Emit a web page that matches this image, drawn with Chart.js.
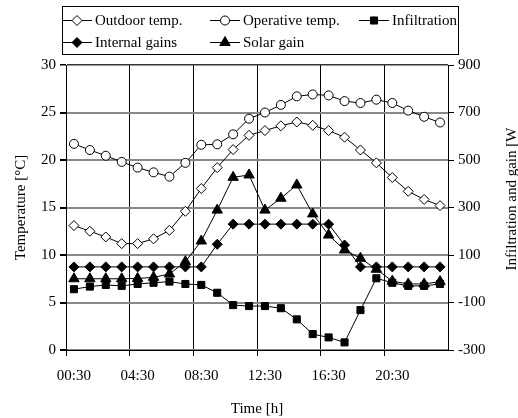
<!DOCTYPE html>
<html>
<head>
<meta charset="utf-8">
<script src="https://cdn.jsdelivr.net/npm/chart.js@4/dist/chart.umd.min.js"></script>
<style>
    html, body { margin: 0; padding: 0; background: #fff; }
    #wrap { width: 518px; height: 418px; position: relative; }
</style>
</head>
<body>
<div id="wrap"><canvas id="chart" width="518" height="418"></canvas></div>
<script>
const hours = ['00:30', '01:30', '02:30', '03:30', '04:30', '05:30', '06:30', '07:30',
    '08:30', '09:30', '10:30', '11:30', '12:30', '13:30', '14:30', '15:30',
    '16:30', '17:30', '18:30', '19:30', '20:30', '21:30', '22:30', '23:30'];

// temperatures [°C], left axis
const outdoorTemp = [13.1, 12.5, 11.9, 11.2, 11.2, 11.7, 12.6, 14.6, 17.0, 19.2, 21.1, 22.6,
    23.1, 23.6, 24.0, 23.65, 23.1, 22.4, 21.05, 19.7, 18.15, 16.7, 15.85, 15.2];
const operativeTemp = [21.7, 21.05, 20.45, 19.8, 19.2, 18.7, 18.25, 19.7, 21.6, 21.65, 22.7, 24.35,
    25.0, 25.8, 26.7, 26.9, 26.8, 26.2, 26.0, 26.35, 26.0, 25.2, 24.55, 23.95];

// powers [W], right axis
const infiltration = [-44, -33, -26, -30, -22, -17, -12, -22, -26, -59, -111, -115,
    -115, -124, -171, -233, -247, -268, -132, 2, -17, -30, -30, -22];
const internalGains = [50, 50, 50, 50, 50, 50, 50, 50, 50, 145, 230, 230,
    230, 230, 230, 230, 230, 142, 50, 50, 50, 50, 50, 50];
const solarGain = [0, 0, 0, 0, 1, 6, 20, 72, 159, 289, 427, 437,
    289, 339, 395, 273, 184, 121, 86, 40, -10, -22, -22, -12];

const tempTicks = [0, 5, 10, 15, 20, 25, 30];
const powerTicks = [-300, -100, 100, 300, 500, 700, 900];

const font = "'Liberation Serif', 'Times New Roman', serif";

const legendItems = [
    { idx: 0, x: 62, y: 20 },
    { idx: 1, x: 210, y: 20 },
    { idx: 2, x: 359, y: 20 },
    { idx: 3, x: 62, y: 42 },
    { idx: 4, x: 210, y: 42 },
];

const boxLegend = {
    id: 'boxLegend',
    afterDraw(chart) {
        const { ctx } = chart;
        ctx.save();
        ctx.strokeStyle = '#000';
        ctx.lineWidth = 1;
        ctx.strokeRect(62.5, 6.5, 396, 48);
        ctx.font = '15px ' + font;
        ctx.textBaseline = 'middle';
        legendItems.forEach((item) => {
            const ds = chart.data.datasets[item.idx];
            ctx.strokeStyle = '#000';
            ctx.beginPath();
            ctx.moveTo(item.x, item.y + 0.5);
            ctx.lineTo(item.x + 30, item.y + 0.5);
            ctx.stroke();
            ctx.fillStyle = ds.pointBackgroundColor;
            Chart.helpers.drawPoint(ctx, {
                pointStyle: ds.pointStyle,
                radius: ds.pointRadius,
                borderWidth: 1,
            }, item.x + 15, item.y + 0.5);
            ctx.fillStyle = '#000';
            ctx.fillText(ds.label, item.x + 33, item.y + 1);
        });

        // right axis title, reading upwards (cut short as in the original)
        ctx.translate(512, 199);
        ctx.rotate(-Math.PI / 2);
        ctx.textAlign = 'center';
        ctx.fillText('Infiltration and gain [W', 0, 0);
        ctx.restore();
    },
};

const line = {
    borderColor: '#000',
    borderWidth: 1,
    pointBorderColor: '#000',
    pointBorderWidth: 1,
    tension: 0,
};

new Chart(document.getElementById('chart'), {
    type: 'line',
    data: {
        labels: hours,
        datasets: [
            { ...line, label: 'Outdoor temp.', data: outdoorTemp, yAxisID: 'y',
              pointStyle: 'rectRot', pointRadius: 5, pointBackgroundColor: '#fff', order: 5 },
            { ...line, label: 'Operative temp.', data: operativeTemp, yAxisID: 'y',
              pointStyle: 'circle', pointRadius: 4.5, pointBackgroundColor: '#fff', order: 4 },
            { ...line, label: 'Infiltration', data: infiltration, yAxisID: 'y1',
              pointStyle: 'rect', pointRadius: 5, pointBackgroundColor: '#000', order: 1 },
            { ...line, label: 'Internal gains', data: internalGains, yAxisID: 'y1',
              pointStyle: 'rectRot', pointRadius: 5, pointBackgroundColor: '#000', order: 3 },
            { ...line, label: 'Solar gain', data: solarGain, yAxisID: 'y1',
              pointStyle: 'triangle', pointRadius: 6, pointBackgroundColor: '#000', order: 2 },
        ],
    },
    options: {
        responsive: false,
        animation: false,
        layout: { padding: { top: 65, right: 0, left: 0, bottom: 0 } },
        plugins: {
            legend: { display: false },
            tooltip: { enabled: false },
        },
        scales: {
            x: {
                type: 'category',
                offset: true,
                grid: {
                    offset: true,
                    color: (c) => (c.index % 4 === 0 ? '#000' : 'rgba(0,0,0,0)'),
                    lineWidth: 1,
                    tickLength: 6,
                },
                border: { color: '#000', width: 1 },
                ticks: {
                    autoSkip: false,
                    maxRotation: 0,
                    color: '#000',
                    font: { family: font, size: 15 },
                    padding: 11,
                    callback(value, i) { return i % 4 === 0 ? hours[i] : ''; },
                },
                title: {
                    display: true,
                    text: 'Time [h]',
                    color: '#000',
                    font: { family: font, size: 15 },
                    padding: { top: 8, bottom: 0 },
                },
                afterFit(scale) { scale.height = 68; },
            },
            y: {
                position: 'left',
                min: 0,
                max: 30,
                afterBuildTicks(scale) { scale.ticks = tempTicks.map((v) => ({ value: v })); },
                grid: {
                    color: (c) => (c.tick && c.tick.value === 30 ? '#333' : '#888'),
                    lineWidth: (c) => (c.tick && c.tick.value === 30 ? 1.5 : 2),
                    tickColor: '#000',
                    tickLength: 6,
                },
                border: { color: '#000', width: 1 },
                ticks: {
                    color: '#000',
                    font: { family: font, size: 15 },
                    padding: 4,
                },
                title: {
                    display: true,
                    text: 'Temperature [°C]',
                    color: '#000',
                    font: { family: font, size: 15 },
                    padding: { top: 12, bottom: 0 },
                },
                afterFit(scale) { scale.width = 66; },
            },
            y1: {
                position: 'right',
                min: -300,
                max: 900,
                afterBuildTicks(scale) { scale.ticks = powerTicks.map((v) => ({ value: v })); },
                grid: {
                    drawOnChartArea: false,
                    color: '#000',
                    tickLength: 6,
                },
                border: { color: '#000', width: 1 },
                ticks: {
                    color: '#000',
                    font: { family: font, size: 15 },
                    padding: 4,
                },
                afterFit(scale) { scale.width = 70; },
            },
        },
    },
    plugins: [boxLegend],
});
</script>
</body>
</html>
